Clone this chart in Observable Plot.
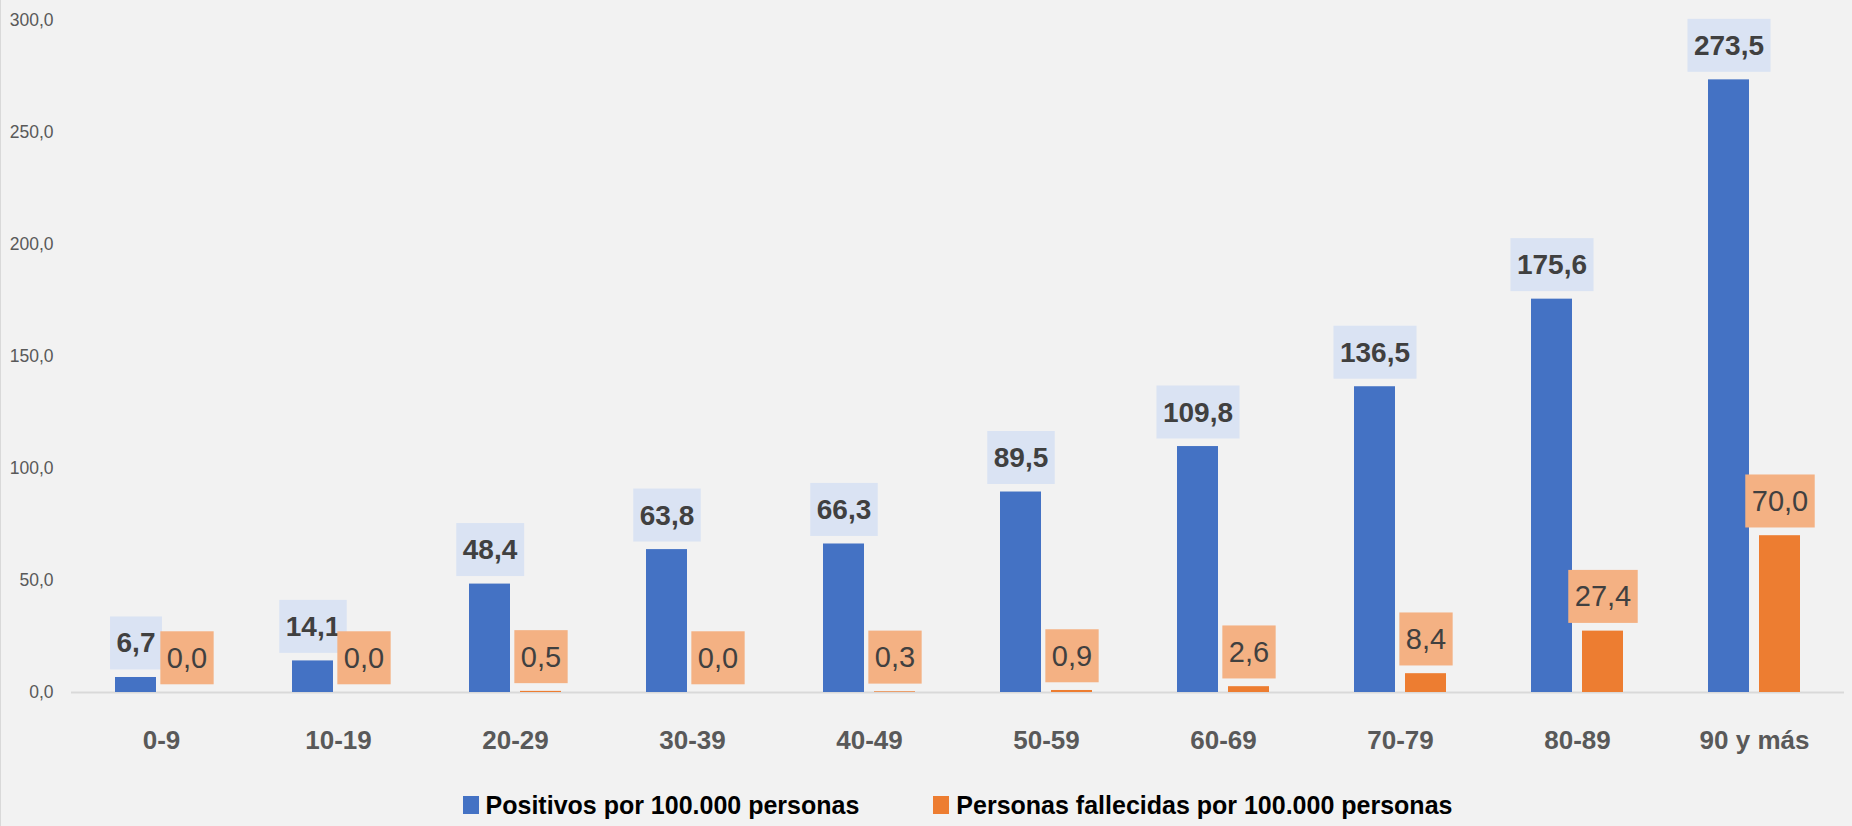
<!DOCTYPE html>
<html>
<head>
<meta charset="utf-8">
<script src="https://cdn.jsdelivr.net/npm/d3@7"></script>
<script src="https://cdn.jsdelivr.net/npm/@observablehq/plot@0.6"></script>
<style>
  html, body { margin: 0; padding: 0; background: #F2F2F2; width: 1852px; height: 826px; overflow: hidden; position: relative; }
  #edge { position: absolute; left: 0; top: 0; width: 1px; height: 826px; background: #D9D9D9; }
  #legend { display: flex; justify-content: center; align-items: center; margin-left: 71px; width: 1773px; height: 42px; padding-top: 14px; font-family: "Liberation Sans", Lato, sans-serif; font-weight: bold; font-size: 25px; color: #000; }
  .item { display: flex; align-items: center; }
  .item + .item { margin-left: 74px; }
  .sw { width: 16px; height: 18px; margin-right: 7px; }
</style>
</head>
<body>
<div id="edge"></div>
<div id="chart"></div>
<div id="legend"></div>
<script>
const categories = ["0-9", "10-19", "20-29", "30-39", "40-49", "50-59", "60-69", "70-79", "80-89", "90 y más"];
const positivos = [6.7, 14.1, 48.4, 63.8, 66.3, 89.5, 109.8, 136.5, 175.6, 273.5];
const fallecidos = [0.0, 0.0, 0.5, 0.0, 0.3, 0.9, 2.6, 8.4, 27.4, 70.0];
const yTicks = [0, 50, 100, 150, 200, 250, 300];
const seriesNames = ["Positivos por 100.000 personas", "Personas fallecidas por 100.000 personas"];
const seriesColors = ["#4472C4", "#ED7D31"];
const boxColors = ["#DAE3F3", "#F4B183"];

const FONT = '"Liberation Sans", Lato, sans-serif';
const fmt = v => v.toFixed(1).replace(".", ",");
const data = categories.map((c, i) => ({cat: c, pos: positivos[i], fal: fallecidos[i]}));

const chart = Plot.plot({
  width: 1852,
  height: 770,
  marginTop: 20,
  marginBottom: 78,
  marginLeft: 71,
  marginRight: 8,
  style: {background: "#F2F2F2", fontFamily: FONT, overflow: "visible"},
  x: {domain: categories, paddingInner: 0.48, paddingOuter: 0.24, align: 0.5},
  y: {domain: [0, 300]},
  marks: [
    Plot.axisY({ticks: yTicks, tickFormat: fmt, tickSize: 0, tickPadding: 18, fontSize: 17.5, color: "#595959", label: null}),
    Plot.axisX({tickSize: 0, tickPadding: 38, fontSize: 26, fontWeight: "bold", color: "#595959", label: null}),
    Plot.ruleY([0], {stroke: "#D9D9D9", strokeWidth: 2}),
    Plot.barY(data, {x: "cat", y: "pos", fill: seriesColors[0], insetRight: 51}),
    Plot.barY(data, {x: "cat", y: "fal", fill: seriesColors[1], insetLeft: 51}),
    Plot.text(data, {x: "cat", y: "pos", text: d => fmt(d.pos), dx: -25.5, dy: -34, fontSize: 28, fontWeight: "bold", fill: "#404040"}),
    Plot.text(data, {x: "cat", y: "fal", text: d => fmt(d.fal), dx: 25.5, dy: -34, fontSize: 29, fill: "#404040"})
  ]
});
document.getElementById("chart").appendChild(chart);

// label boxes behind the data labels (the two text marks, in order)
const ns = "http://www.w3.org/2000/svg";
const labelGroups = chart.querySelectorAll('g[aria-label="text"]');
labelGroups.forEach((g, gi) => {
  const col = boxColors[gi] || boxColors[1];
  g.querySelectorAll("text").forEach(t => {
    const b = t.getBBox();
    const w = b.width + 13, h = 53;
    const cx = b.x + b.width / 2, cy = b.y + b.height / 2;
    const r = document.createElementNS(ns, "rect");
    r.setAttribute("x", cx - w / 2);
    r.setAttribute("y", cy - h / 2);
    r.setAttribute("width", w);
    r.setAttribute("height", h);
    r.setAttribute("fill", col);
    const tr = t.getAttribute("transform");
    if (tr) r.setAttribute("transform", tr);
    t.parentNode.insertBefore(r, t);
  });
});

const legend = document.getElementById("legend");
seriesNames.forEach((name, i) => {
  const item = document.createElement("div");
  item.className = "item";
  const sw = document.createElement("div");
  sw.className = "sw";
  sw.style.background = seriesColors[i];
  const tx = document.createElement("span");
  tx.textContent = name;
  item.appendChild(sw);
  item.appendChild(tx);
  legend.appendChild(item);
});
</script>
</body>
</html>
